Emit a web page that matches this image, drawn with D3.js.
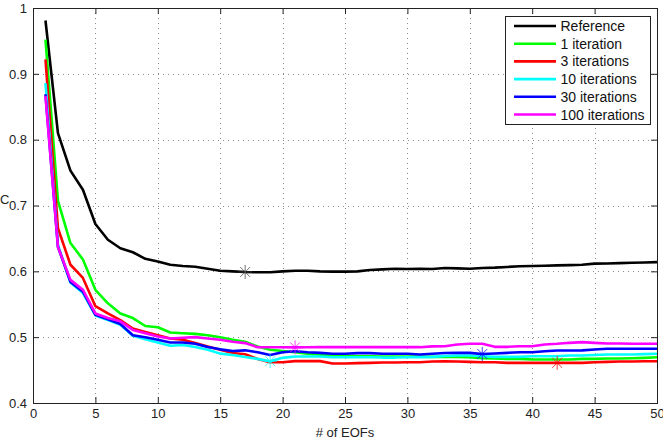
<!DOCTYPE html>
<html>
<head>
<meta charset="utf-8">
<script src="https://cdn.jsdelivr.net/npm/d3@7"></script>
<style>
    body { margin: 0; background: #fff; }
    text { font-family: "Liberation Sans", Arial, sans-serif; }
</style>
</head>
<body>
<div id="chart"></div>
<script>
/* --------------------------------------------------------- */
/* Data.                                                     */
/* --------------------------------------------------------- */
var eofs = [ 1,  2,  3,  4,  5,  6,  7,  8,  9, 10,
            11, 12, 13, 14, 15, 16, 17, 18, 19, 20,
            21, 22, 23, 24, 25, 26, 27, 28, 29, 30,
            31, 32, 33, 34, 35, 36, 37, 38, 39, 40,
            41, 42, 43, 44, 45, 46, 47, 48, 49, 50];

var seriesNames = ["Reference", "1 iteration", "3 iterations",
                   "10 iterations", "30 iterations", "100 iterations"];

var reference = [0.981, 0.810, 0.753, 0.724, 0.672, 0.648, 0.635, 0.629, 0.619, 0.615,
                 0.610, 0.608, 0.607, 0.604, 0.601, 0.600, 0.599, 0.5985, 0.5985, 0.600,
                 0.601, 0.601, 0.600, 0.5995, 0.5995, 0.600, 0.602, 0.603, 0.604, 0.6035,
                 0.604, 0.6036, 0.605, 0.6045, 0.604, 0.605, 0.6056, 0.6067, 0.6077, 0.608,
                 0.6085, 0.609, 0.6095, 0.610, 0.6117, 0.612, 0.6125, 0.613, 0.6135, 0.614];

var iter1 = [0.952, 0.707, 0.643, 0.618, 0.572, 0.5515, 0.536, 0.529, 0.517, 0.515,
             0.507, 0.506, 0.505, 0.503, 0.500, 0.496, 0.493, 0.486, 0.481, 0.479,
             0.477, 0.4747, 0.4732, 0.4722, 0.4716, 0.471, 0.471, 0.4705, 0.4705, 0.4705,
             0.4705, 0.470, 0.470, 0.470, 0.4695, 0.468, 0.4676, 0.467, 0.467, 0.466,
             0.466, 0.466, 0.466, 0.467, 0.467, 0.4676, 0.4676, 0.468, 0.4686, 0.4696];

var iter3 = [0.922, 0.6655, 0.610, 0.590, 0.547, 0.536, 0.526, 0.513, 0.508, 0.503,
             0.498, 0.496, 0.491, 0.486, 0.481, 0.476, 0.474, 0.467, 0.462, 0.462,
             0.4636, 0.4636, 0.4636, 0.4600, 0.4600, 0.4605, 0.461, 0.4615, 0.4615, 0.462,
             0.462, 0.463, 0.4635, 0.463, 0.4625, 0.462, 0.462, 0.461, 0.461, 0.461,
             0.461, 0.461, 0.461, 0.461, 0.462, 0.4625, 0.463, 0.463, 0.4635, 0.4635];

var iter10 = [0.886, 0.640, 0.583, 0.567, 0.533, 0.526, 0.519, 0.502, 0.497, 0.492,
              0.487, 0.488, 0.485, 0.481, 0.475, 0.473, 0.470, 0.467, 0.4635, 0.4686,
              0.4706, 0.4706, 0.4706, 0.4696, 0.4696, 0.4696, 0.4696, 0.469, 0.469, 0.4695,
              0.4696, 0.470, 0.4715, 0.4721, 0.4721, 0.471, 0.470, 0.470, 0.470, 0.471,
              0.471, 0.471, 0.4721, 0.4721, 0.473, 0.4737, 0.4737, 0.4737, 0.4742, 0.4747];

var iter30 = [0.869, 0.637, 0.584, 0.569, 0.534, 0.527, 0.520, 0.503, 0.500, 0.496,
              0.492, 0.492, 0.490, 0.485, 0.4815, 0.479, 0.480, 0.477, 0.473, 0.477,
              0.4787, 0.477, 0.4762, 0.4747, 0.4747, 0.4757, 0.4757, 0.4747, 0.4747, 0.4747,
              0.4737, 0.4747, 0.476, 0.4762, 0.4762, 0.4745, 0.4752, 0.4762, 0.4772, 0.4772,
              0.4787, 0.4797, 0.4797, 0.480, 0.4813, 0.4823, 0.4823, 0.4823, 0.4823, 0.4823];

var iter100 = [0.866, 0.637, 0.587, 0.572, 0.536, 0.529, 0.524, 0.511, 0.506, 0.501,
               0.498, 0.499, 0.500, 0.498, 0.496, 0.493, 0.491, 0.4847, 0.4847, 0.4847,
               0.4845, 0.4847, 0.4848, 0.4848, 0.4848, 0.4848, 0.4848, 0.4848, 0.4848, 0.4848,
               0.4848, 0.486, 0.4863, 0.4889, 0.4899, 0.4899, 0.4853, 0.4853, 0.4863, 0.4863,
               0.4889, 0.4899, 0.4914, 0.4924, 0.4914, 0.4904, 0.4904, 0.4899, 0.4899, 0.4899];

var seriesValues = [reference, iter1, iter3, iter10, iter30, iter100];
var seriesColors = ["#000000", "#00ff00", "#ff0000", "#00ffff", "#0000ff", "#ff00ff"];

// EOF count where each curve carries its asterisk marker.
var markerEofs = [17, null, 42, 19, 36, 21];

var xTicks      = [0, 5, 10, 15, 20, 25, 30, 35, 40, 45, 50];
var yTicks      = [0.4, 0.5, 0.6, 0.7, 0.8, 0.9, 1];
var yTickLabels = ["0.4", "0.5", "0.6", "0.7", "0.8", "0.9", "1"];

/* --------------------------------------------------------- */
/* Setup.                                                    */
/* --------------------------------------------------------- */
var W = 663, H = 445;
var margin = {top: 8, right: 6, bottom: 42, left: 33};
var w = W - margin.left - margin.right;
var h = H - margin.top - margin.bottom;

var svg = d3.select("#chart").append("svg")
    .attr("width", W)
    .attr("height", H);

var g = svg.append("g")
    .attr("transform", "translate(" + margin.left + "," + margin.top + ")");

var x = d3.scaleLinear().domain([0, 50]).range([0, w]);
var y = d3.scaleLinear().domain([0.4, 1]).range([h, 0]);

/* --------------------------------------------------------- */
/* Grid.                                                     */
/* --------------------------------------------------------- */
var grid = g.append("g")
    .attr("stroke", "#8a8a8a")
    .attr("stroke-width", 1)
    .attr("stroke-dasharray", "1,4");

grid.selectAll("line.gx")
    .data(xTicks.slice(1, -1)).enter().append("line")
    .attr("class", "gx")
    .attr("x1", function(d) { return Math.round(x(d)) + 0.5; })
    .attr("x2", function(d) { return Math.round(x(d)) + 0.5; })
    .attr("y1", 0).attr("y2", h);

grid.selectAll("line.gy")
    .data(yTicks.slice(1, -1)).enter().append("line")
    .attr("class", "gy")
    .attr("y1", function(d) { return Math.round(y(d)) + 0.5; })
    .attr("y2", function(d) { return Math.round(y(d)) + 0.5; })
    .attr("x1", 0).attr("x2", w);

/* --------------------------------------------------------- */
/* Curves and markers.                                       */
/* --------------------------------------------------------- */
var line = d3.line()
    .x(function(d, i) { return x(eofs[i]); })
    .y(function(d) { return y(d); });

seriesValues.forEach(function(values, k) {
    g.append("path")
        .datum(values)
        .attr("fill", "none")
        .attr("stroke", seriesColors[k])
        .attr("stroke-width", 2.6)
        .attr("stroke-linejoin", "round")
        .attr("d", line);
});

var star = d3.symbol().type({
    draw: function(context, size) {
        var r = Math.sqrt(size);
        for (var a = 0; a < 4; a++) {
            var t = a * Math.PI / 4;
            context.moveTo(-r * Math.cos(t), -r * Math.sin(t));
            context.lineTo(r * Math.cos(t), r * Math.sin(t));
        }
    }
}).size(49);

markerEofs.forEach(function(e, k) {
    if (e === null) { return; }
    var i = eofs.indexOf(e);
    g.append("path")
        .attr("d", star())
        .attr("transform", "translate(" + x(e) + "," + y(seriesValues[k][i]) + ")")
        .attr("fill", "none")
        .attr("stroke", k === 0 ? "#444" : seriesColors[k])
        .attr("stroke-opacity", 0.75)
        .attr("stroke-width", 1);
});

/* --------------------------------------------------------- */
/* Axes (box with inward ticks on all sides).                */
/* --------------------------------------------------------- */
var fontSize = "13px";

var xAxis = g.append("g")
    .attr("transform", "translate(0," + h + ")")
    .call(d3.axisBottom(x).tickValues(xTicks).tickSize(-6).tickPadding(6).tickSizeOuter(0));
var xTop = g.append("g")
    .call(d3.axisTop(x).tickValues(xTicks).tickSize(-6).tickFormat("").tickSizeOuter(0));
var yAxis = g.append("g")
    .call(d3.axisLeft(y).tickValues(yTicks).tickSize(-6).tickPadding(6).tickSizeOuter(0)
        .tickFormat(function(d, i) { return yTickLabels[i]; }));
var yRight = g.append("g")
    .attr("transform", "translate(" + w + ",0)")
    .call(d3.axisRight(y).tickValues(yTicks).tickSize(-6).tickFormat("").tickSizeOuter(0));

[xAxis, xTop, yAxis, yRight].forEach(function(a) {
    a.select(".domain").remove();
    a.selectAll("line").attr("stroke", "#222");
    a.selectAll("text")
        .attr("fill", "#222")
        .style("font-size", fontSize)
        .style("font-family", "'Liberation Sans', Arial, sans-serif");
});

g.append("rect")
    .attr("x", 0.5).attr("y", 0.5)
    .attr("width", w).attr("height", h)
    .attr("fill", "none")
    .attr("stroke", "#222")
    .attr("stroke-width", 1);

// Axis labels.
svg.append("text")
    .attr("x", margin.left + w / 2)
    .attr("y", 437)
    .attr("text-anchor", "middle")
    .style("font-size", fontSize)
    .attr("fill", "#222")
    .text("# of EOFs");

// The y label sits at the very left edge, slightly above the 0.7 tick.
svg.append("text")
    .attr("x", 0)
    .attr("y", 204)
    .style("font-size", fontSize)
    .attr("fill", "#222")
    .text("C");

/* --------------------------------------------------------- */
/* Legend.                                                   */
/* --------------------------------------------------------- */
var legend = svg.append("g").attr("transform", "translate(505.5,16.5)");

legend.append("rect")
    .attr("width", 145)
    .attr("height", 108)
    .attr("fill", "#fff")
    .attr("stroke", "#222")
    .attr("stroke-width", 1);

var rowH = 17.7;
var rows = legend.selectAll("g.row")
    .data(seriesNames).enter().append("g")
    .attr("class", "row")
    .attr("transform", function(d, i) { return "translate(0," + (9.5 + i * rowH) + ")"; });

rows.append("line")
    .attr("x1", 8.5).attr("x2", 50.5)
    .attr("stroke", function(d, i) { return seriesColors[i]; })
    .attr("stroke-width", 2.6);

rows.append("text")
    .attr("x", 55)
    .attr("dy", "0.36em")
    .style("font-size", "14px")
    .attr("fill", "#111")
    .text(function(d) { return d; });
</script>
</body>
</html>
